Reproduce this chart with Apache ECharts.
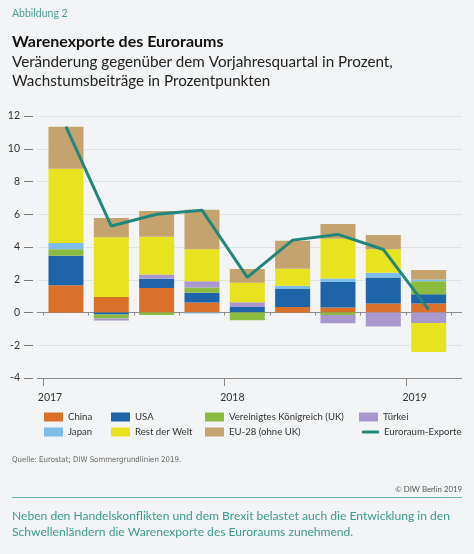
<!DOCTYPE html>
<html>
<head>
<meta charset="utf-8">
<script src="https://cdn.jsdelivr.net/npm/echarts@6/dist/echarts.min.js"></script>
<style>
  html, body { margin: 0; padding: 0; background: #f2f4f5; }
  #chart { width: 474px; height: 554px; }
</style>
</head>
<body>
<div id="chart"></div>
<script>
// Quartale Q1 2017 .. Q1 2019
const quarters = ['Q1 2017', 'Q2 2017', 'Q3 2017', 'Q4 2017', 'Q1 2018', 'Q2 2018', 'Q3 2018', 'Q4 2018', 'Q1 2019'];
const yearTicks = [2017, 2018, 2019];
const yTicks = [-4, -2, 0, 2, 4, 6, 8, 10, 12];

// Wachstumsbeitraege in Prozentpunkten
const china   = [1.67, 0.95, 1.49, 0.61, 0.02, 0.34, 0.31, 0.55, 0.55];
const usa     = [1.79, -0.12, 0.57, 0.59, 0.32, 1.13, 1.56, 1.59, 0.57];
const uk      = [0.41, -0.25, -0.16, 0.33, -0.47, 0, -0.15, 0, 0.79];
const japan   = [0.37, 0, 0, -0.06, 0, 0.16, 0.21, 0.28, 0.11];
const tuerkei = [0, -0.12, 0.26, 0.38, 0.29, 0, -0.51, -0.86, -0.64];
const restWelt = [4.54, 3.65, 2.30, 1.96, 1.18, 1.04, 2.42, 1.45, -1.77];
const eu28    = [2.57, 1.17, 1.58, 2.41, 0.84, 1.71, 0.90, 0.86, 0.57];
// Veraenderung in Prozent
const exporte = [11.35, 5.28, 6.0, 6.25, 2.14, 4.42, 4.77, 3.85, 0.18];

const FONT = 'Lato, "Noto Sans", sans-serif';
const TEAL = '#22877b';

const barSeries = [
  { name: 'China', data: china, color: '#d9712a' },
  { name: 'USA', data: usa, color: '#1d64a9' },
  { name: 'Vereinigtes Königreich (UK)', data: uk, color: '#8bbb3f' },
  { name: 'Japan', data: japan, color: '#7dbde9' },
  { name: 'Türkei', data: tuerkei, color: '#a898cd' },
  { name: 'Rest der Welt', data: restWelt, color: '#e8e31f' },
  { name: 'EU-28 (ohne UK)', data: eu28, color: '#c4a36f' }
].map(s => ({
  name: s.name,
  type: 'bar',
  stack: 'total',
  xAxisIndex: 1,
  yAxisIndex: 1,
  barWidth: 35,
  itemStyle: { color: s.color },
  data: s.data
}));

// eine Legende pro Eintrag, damit die Spalten frei liegen
function leg(name, left, cy, extra) {
  return Object.assign({
    data: [{ name: name, icon: 'rect' }],
    left: left,
    top: cy - 5,
    itemWidth: 19,
    itemHeight: 9,
    selectedMode: false,
    padding: 0,
    textStyle: { fontFamily: FONT, fontSize: 9.6, color: '#333' }
  }, extra);
}
const r1 = 417, r2 = 432;
const legends = [
  leg('China', 44, r1),
  leg('USA', 111, r1),
  leg('Vereinigtes Königreich (UK)', 205, r1),
  leg('Türkei', 359, r1),
  leg('Japan', 44, r2),
  leg('Rest der Welt', 111, r2),
  leg('EU-28 (ohne UK)', 205, r2),
  leg('Euroraum-Exporte', 362, r2, { data: [{ name: 'Euroraum-Exporte', icon: 'roundRect' }], itemWidth: 17, itemHeight: 3 })
];

const gridTop = 116, gridBottom = 554 - 378;
const option = {
  backgroundColor: '#f2f4f5',
  animation: false,
  textStyle: { fontFamily: FONT },
  grid: [
    { left: 37, right: 12, top: gridTop, bottom: gridBottom },
    { left: 43.3, right: 22.7, top: gridTop, bottom: gridBottom }
  ],
  legend: legends,
  xAxis: [
    {
      // Jahreslabels
      gridIndex: 0, type: 'value', position: 'bottom', min: 2016.9287, max: 2019.2597,
      axisLine: { show: false }, axisTick: { show: false }, splitLine: { show: false },
      axisLabel: {
        customValues: yearTicks, margin: 14, fontSize: 10.5, color: '#333',
        formatter: v => String(v)
      }
    },
    {
      gridIndex: 1, type: 'category', position: 'bottom', data: quarters,
      axisLine: { show: false },
      axisTick: { show: true, interval: 0, length: 3, lineStyle: { color: '#888' } },
      axisLabel: { show: false }
    },
    {
      gridIndex: 1, type: 'value', position: 'bottom', offset: 0, min: 0, max: 9,
      axisLine: { show: false }, splitLine: { show: false }, axisLabel: { show: false },
      axisTick: { show: true, customValues: [0, 4, 8], length: 8, lineStyle: { color: '#888' } }
    }
  ],
  yAxis: [
    {
      gridIndex: 0, type: 'value', min: -4, max: 12, interval: 2, offset: 4,
      axisLine: { show: false },
      axisTick: { show: true, length: 9, lineStyle: { color: '#777' } },
      axisLabel: { margin: 13, fontSize: 10.5, color: '#333' },
      splitLine: {
        lineStyle: {
          color: yTicks.map(v => (v === -4 || v === 0) ? '#8c8c8c' : '#dfe3e6'),
          width: 1
        }
      }
    },
    {
      gridIndex: 1, type: 'value', min: -4, max: 12, show: false
    }
  ],
  series: barSeries.concat([
    {
      name: 'Euroraum-Exporte',
      type: 'line',
      xAxisIndex: 1,
      yAxisIndex: 1,
      z: 5,
      showSymbol: false,
      symbol: 'none',
      color: TEAL,
      lineStyle: { color: TEAL, width: 3 },
      data: exporte
    }
  ]),
  graphic: [
    { type: 'text', left: 12, top: 8, style: { text: 'Abbildung 2', font: '10.5px ' + FONT, fill: '#4e9d94' } },
    { type: 'text', left: 12, top: 34, style: { text: 'Warenexporte des Euroraums', font: 'bold 16px ' + FONT, fill: '#111' } },
    { type: 'text', left: 12, top: 53, style: { text: 'Veränderung gegenüber dem Vorjahresquartal in Prozent,\nWachstumsbeiträge in Prozentpunkten', font: '15.2px ' + FONT, fill: '#222', lineHeight: 19 } },
    { type: 'text', left: 12, top: 456, style: { text: 'Quelle: Eurostat; DIW Sommergrundlinien 2019.', font: '7.8px "DejaVu Sans Condensed", "Liberation Sans Narrow", sans-serif', fill: '#666' } },
    { type: 'text', right: 12, top: 485, style: { text: '© DIW Berlin 2019', font: '7.8px ' + FONT, fill: '#555' } },
    { type: 'rect', left: 12, top: 497, shape: { width: 450, height: 1 }, style: { fill: '#6cb5ac' } },
    { type: 'text', left: 12, top: 508, style: { text: 'Neben den Handelskonflikten und dem Brexit belastet auch die Entwicklung in den\nSchwellenländern die Warenexporte des Euroraums zunehmend.', font: '12.1px ' + FONT, fill: '#3a9a8d', lineHeight: 16 } }
  ]
};

const chart = echarts.init(document.getElementById('chart'), null, { renderer: 'canvas' });
chart.setOption(option);
</script>
</body>
</html>
